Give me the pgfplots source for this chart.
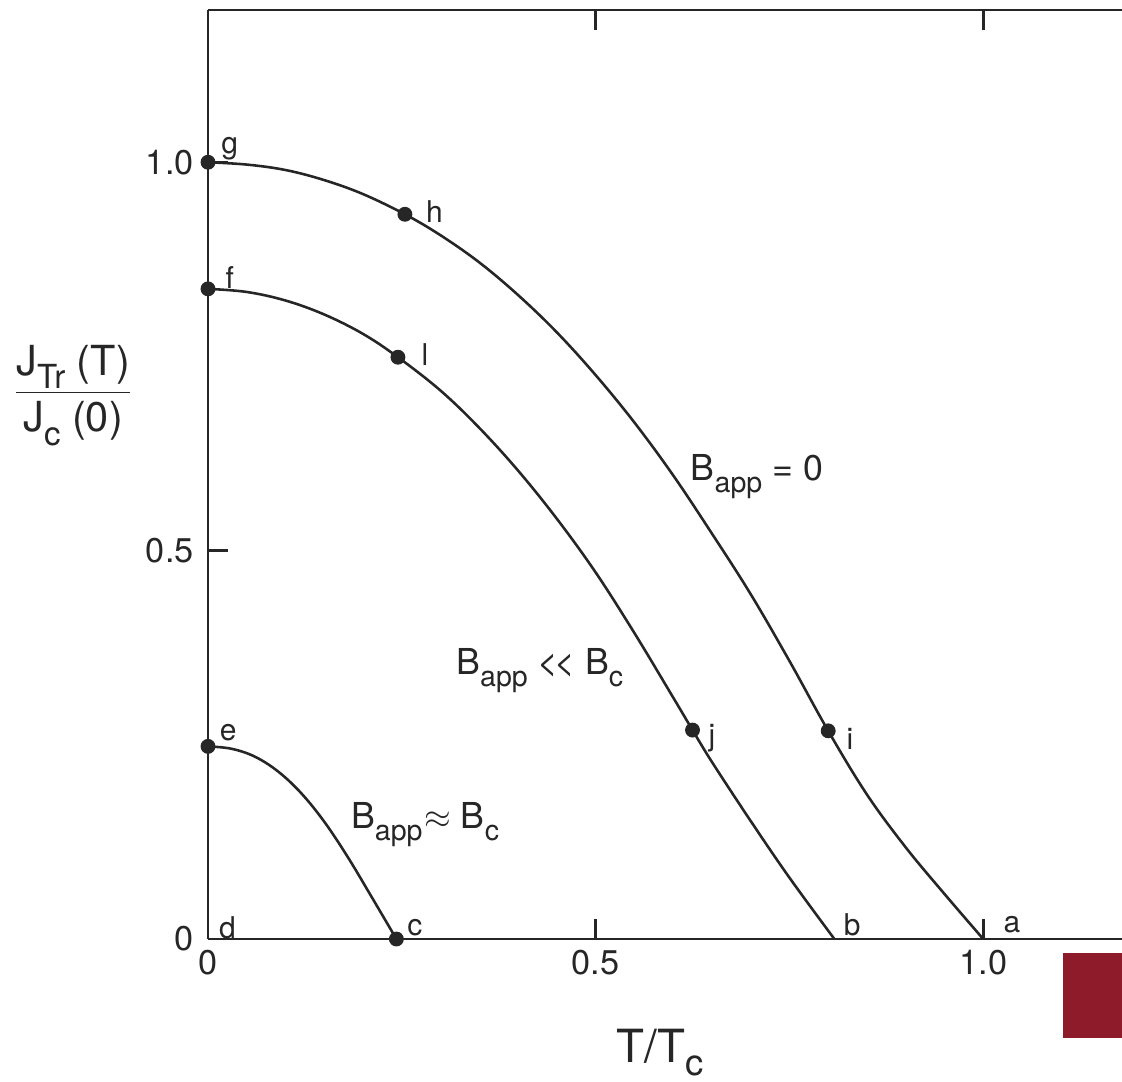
\documentclass[border=0pt]{standalone}
\usepackage{fontspec}
\setmainfont{TeX Gyre Heros}
\usepackage{graphicx}
\usepackage{pgfplots}
\pgfplotsset{compat=1.18}
\definecolor{ink}{HTML}{262626}
\definecolor{logored}{HTML}{8E1B2A}
\newcommand\sub[1]{\raisebox{-0.33em}{\scalebox{0.8}{#1}}}
\newcommand\fs[1]{\fontsize{#1}{#1}\selectfont}

\pgfplotstableread{
t J
0.000 1.000
0.050 0.997
0.100 0.990
0.150 0.977
0.200 0.959
0.254 0.933
0.300 0.906
0.350 0.871
0.400 0.829
0.450 0.781
0.500 0.726
0.550 0.665
0.600 0.597
0.650 0.522
0.700 0.444
0.750 0.358
0.800 0.268
0.850 0.186
0.900 0.118
0.950 0.058
1.000 0.000
}\curveA

\pgfplotstableread{
t J
0.000 0.837
0.050 0.833
0.100 0.822
0.150 0.804
0.200 0.779
0.245 0.749
0.300 0.706
0.350 0.658
0.400 0.603
0.450 0.541
0.500 0.472
0.550 0.394
0.600 0.311
0.625 0.269
0.650 0.228
0.700 0.152
0.750 0.079
0.808 0.000
}\curveB

\pgfplotstableread{
t J
0.000 0.248
0.030 0.245
0.060 0.235
0.090 0.216
0.120 0.188
0.150 0.151
0.180 0.106
0.210 0.056
0.243 0.000
}\curveC

\begin{document}
\begin{tikzpicture}
\begin{axis}[
  scale only axis,
  width=319.9pt, height=325.15pt,
  xmin=0, xmax=1.179, ymin=0, ymax=1.196,
  axis x line*=box, axis y line*=left,
  axis line style={ink, line width=1pt},
  xtick={0,0.5,1}, ytick={0,0.5,1},
  xticklabels={0,0.5,1.0}, yticklabels={0,0.5,1.0},
  xtick pos=both, ytick pos=left,
  xticklabel pos=lower,
  tick align=inside,
  major tick length=7pt,
  tick style={ink, line width=0.9pt},
  ticklabel style={font=\fs{12pt}, text=ink},
  /pgf/number format/assume math mode=true,
  xticklabel shift=0.5pt, yticklabel shift=1.5pt,
  clip=false,
]
\coordinate (SW) at (rel axis cs:0,0);
\coordinate (NE) at (rel axis cs:1,1);

\addplot[ink, line width=0.9pt, smooth, tension=0.6] table[x=t,y=J] {\curveA};
\addplot[ink, line width=0.9pt, smooth, tension=0.6] table[x=t,y=J] {\curveB};
\addplot[ink, line width=0.9pt, smooth, tension=0.6] table[x=t,y=J] {\curveC};

\addplot[only marks, mark=*, mark size=2.4pt, ink] coordinates {
  (0,1.000) (0.254,0.933) (0.800,0.268)
  (0,0.837) (0.245,0.749) (0.625,0.269)
  (0,0.248) (0.243,0)
};

\begin{scope}[every node/.style={font=\fs{10.5pt}, text=ink, inner sep=0pt}]
\node at (axis cs:0.028,1.018) {g};
\node at (axis cs:0.292,0.936) {h};
\node at (axis cs:0.028,0.852) {f};
\node at (axis cs:0.280,0.752) {l};
\node at (axis cs:0.026,0.266) {e};
\node at (axis cs:0.650,0.258) {j};
\node at (axis cs:0.828,0.258) {i};
\node at (axis cs:0.025,0.015) {d};
\node at (axis cs:0.267,0.015) {c};
\node at (axis cs:0.831,0.018) {b};
\node at (axis cs:1.037,0.018) {a};
\end{scope}

\begin{scope}[every node/.style={font=\fs{12.5pt}, text=ink, inner sep=0pt}]
\node at (axis cs:0.708,0.595) {B\sub{app} = 0};
\node at (axis cs:0.428,0.346) {B\sub{app} <\kern-0.12em< B\sub{c}};
\node at (axis cs:0.280,0.147) {B\sub{app}\kern0.05em{\large$\approx$} B\sub{c}};
\end{scope}

\node[font=\fs{14.5pt}, text=ink, inner sep=0pt] at (axis cs:-0.174,0.700)
  {$\displaystyle\frac{\hbox{J\sub{Tr} (T)}}{\hbox{J\sub{c} (0)}}$};
\node[font=\fs{16pt}, text=ink, inner sep=0pt] at (axis cs:0.583,-0.146)
  {T/T\raisebox{-0.28em}{\scalebox{0.8}{c}}};

\fill[logored] (axis cs:1.103,-0.018) rectangle (axis cs:1.179,-0.127);
\end{axis}
\pgfresetboundingbox
\path ([xshift=-72.8pt,yshift=-49.7pt]SW) rectangle ([yshift=3.5pt]NE);
\end{tikzpicture}
\end{document}
